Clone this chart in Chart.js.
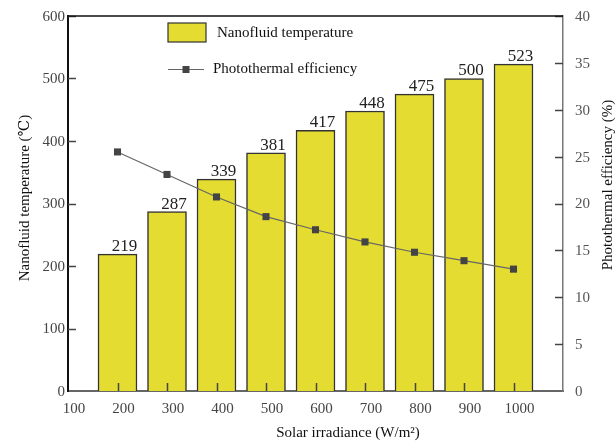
<!DOCTYPE html>
<html>
<head>
<meta charset="utf-8">
<script src="https://cdn.jsdelivr.net/npm/chart.js@4/dist/chart.umd.min.js"></script>
<style>
  html, body { margin: 0; padding: 0; background: #fff; }
  canvas { display: block; }
</style>
</head>
<body>
<canvas id="c" width="616" height="443"></canvas>
<script>
// Solar irradiance levels (W/m²)
const irradiance = [200, 300, 400, 500, 600, 700, 800, 900, 1000];
// Nanofluid temperature (℃) at each irradiance
const temperature = [219, 287, 339, 381, 417, 448, 475, 500, 523];
// Photothermal efficiency (%) at each irradiance
const efficiency = [25.5, 23.1, 20.7, 18.6, 17.2, 15.9, 14.8, 13.9, 13.0];

const SERIF = '"Liberation Serif", "DejaVu Serif", "Noto Serif", serif';
const BAR_FILL = '#E4DC31';

// value text above every bar, plus inward tick marks, top frame, titles and legend
const decorations = {
  id: 'decorations',
  afterDatasetsDraw(chart) {
    const ctx = chart.ctx;
    const ca = chart.chartArea;
    const sx = chart.scales.x, sy = chart.scales.y, sy1 = chart.scales.y1;
    ctx.save();

    // bar value labels
    const meta = chart.getDatasetMeta(0);
    ctx.font = '17px ' + SERIF;
    ctx.fillStyle = '#222';
    ctx.textAlign = 'center';
    ctx.textBaseline = 'bottom';
    meta.data.forEach((bar, i) => {
      ctx.fillText(String(temperature[i]), bar.x + 7, bar.y + 1);
    });

    // inward tick marks
    ctx.lineWidth = 1.5;
    ctx.strokeStyle = '#444';
    ctx.beginPath();
    sy.ticks.forEach(t => {
      if (t.value === 0) return;
      const p = Math.round(sy.getPixelForValue(t.value)) + 0.5;
      ctx.moveTo(ca.left, p); ctx.lineTo(ca.left + 8, p);
    });
    sy1.ticks.forEach(t => {
      if (t.value === 0) return;
      const p = Math.round(sy1.getPixelForValue(t.value)) + 0.5;
      ctx.moveTo(ca.right, p); ctx.lineTo(ca.right - 8, p);
    });
    irradiance.forEach(v => {
      const p = Math.round(sx.getPixelForValue(v)) + 0.5;
      ctx.moveTo(p, ca.bottom); ctx.lineTo(p, ca.bottom - 8);
    });
    ctx.stroke();

    // top frame line
    ctx.strokeStyle = '#111';
    ctx.lineWidth = 1.5;
    ctx.beginPath();
    ctx.moveTo(ca.left, ca.top); ctx.lineTo(ca.right, ca.top);
    ctx.stroke();

    // axis titles
    ctx.fillStyle = '#111';
    ctx.font = '15px ' + SERIF;
    ctx.textAlign = 'center';
    ctx.textBaseline = 'middle';
    ctx.fillText('Solar irradiance (W/m²)', 348, 433);
    ctx.save();
    ctx.translate(25, 198);
    ctx.rotate(-Math.PI / 2);
    ctx.fillText('Nanofluid temperature (℃)', 0, 0);
    ctx.restore();
    ctx.save();
    ctx.translate(608, 185);
    ctx.rotate(-Math.PI / 2);
    ctx.fillText('Photothermal efficiency (%)', 0, 0);
    ctx.restore();

    // legend
    const ds0 = chart.data.datasets[0], ds1 = chart.data.datasets[1];
    ctx.fillStyle = BAR_FILL;
    ctx.fillRect(168, 23, 38, 19);
    ctx.strokeStyle = '#333';
    ctx.lineWidth = 1.2;
    ctx.strokeRect(168, 23, 38, 19);
    ctx.strokeStyle = '#666';
    ctx.lineWidth = 1.2;
    ctx.beginPath();
    ctx.moveTo(168, 69.5); ctx.lineTo(204, 69.5);
    ctx.stroke();
    ctx.fillStyle = '#444';
    ctx.fillRect(182.5, 66, 7, 7);
    ctx.fillStyle = '#111';
    ctx.textAlign = 'left';
    ctx.fillText(ds0.label, 217, 33);
    ctx.fillText(ds1.label, 213, 69);

    ctx.restore();
  }
};

// fixed axis band sizes so the plot area lands where intended
const fitY = w => s => { s.width = w; s.paddingTop = 0; s.paddingBottom = 0; };

new Chart(document.getElementById('c'), {
  data: {
    datasets: [
      {
        type: 'bar',
        label: 'Nanofluid temperature',
        data: irradiance.map((x, i) => ({ x, y: temperature[i] })),
        backgroundColor: BAR_FILL,
        borderColor: '#333',
        borderWidth: 1.5,
        barThickness: 39,
        yAxisID: 'y',
        order: 2
      },
      {
        type: 'line',
        label: 'Photothermal efficiency',
        data: irradiance.map((x, i) => ({ x, y: efficiency[i] })),
        borderColor: '#666',
        borderWidth: 1.2,
        pointStyle: 'rect',
        pointRadius: 5,
        pointBackgroundColor: '#444',
        pointBorderColor: '#444',
        pointBorderWidth: 0,
        tension: 0,
        yAxisID: 'y1',
        order: 1
      }
    ]
  },
  options: {
    responsive: false,
    devicePixelRatio: 1,
    animation: false,
    layout: { padding: { top: 16, left: 0, right: 0, bottom: 0 } },
    plugins: { legend: { display: false }, tooltip: { enabled: false } },
    scales: {
      x: {
        type: 'linear',
        offset: false,
        min: 100,
        max: 1100,
        grid: { display: false, drawTicks: false },
        border: { display: true, color: '#666', width: 2 },
        ticks: {
          stepSize: 100,
          padding: 9,
          labelOffset: 6,
          color: '#444',
          font: { family: SERIF, size: 15 },
          maxRotation: 0,
          callback: v => (v === 1100 ? '' : String(v))
        },
        afterFit: s => { s.height = 52; s.paddingLeft = 0; s.paddingRight = 0; }
      },
      y: {
        position: 'left',
        min: 0,
        max: 600,
        grid: { display: false, drawTicks: false },
        border: { display: true, color: '#111', width: 2 },
        ticks: {
          stepSize: 100,
          padding: 3,
          labelOffset: 1,
          color: '#444',
          font: { family: SERIF, size: 15 }
        },
        afterFit: fitY(68)
      },
      y1: {
        position: 'right',
        min: 0,
        max: 40,
        grid: { display: false, drawTicks: false },
        border: { display: true, color: '#777', width: 1.5 },
        ticks: {
          stepSize: 5,
          padding: 12,
          labelOffset: 1,
          color: '#555',
          font: { family: SERIF, size: 15 }
        },
        afterFit: fitY(53)
      }
    }
  },
  plugins: [decorations]
});
</script>
</body>
</html>
